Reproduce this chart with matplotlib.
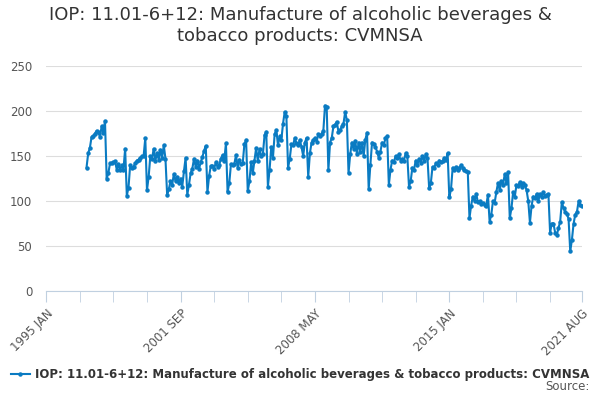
import numpy as np
import matplotlib.pyplot as plt

# monthly index values, Jan 1997 .. Aug 2021
years = list(range(1997, 2022))
values_by_year = {
    1997: [137, 153, 159, 171, 172, 175, 178, 177, 171, 183, 176, 189],
    1998: [125, 131, 142, 142, 143, 144, 135, 141, 134, 140, 135, 158],
    1999: [106, 115, 140, 137, 138, 142, 145, 146, 148, 150, 150, 170],
    2000: [112, 127, 150, 147, 158, 145, 153, 146, 157, 148, 162, 147],
    2001: [107, 113, 122, 118, 130, 122, 127, 120, 125, 116, 133, 148],
    2002: [107, 118, 131, 136, 147, 138, 145, 136, 143, 149, 156, 161],
    2003: [110, 128, 139, 139, 136, 143, 138, 140, 147, 151, 145, 164],
    2004: [110, 120, 141, 140, 141, 151, 137, 146, 141, 142, 163, 168],
    2005: [111, 122, 143, 131, 145, 159, 144, 158, 150, 152, 173, 177],
    2006: [116, 135, 160, 148, 174, 179, 162, 172, 168, 186, 199, 194],
    2007: [137, 147, 163, 162, 170, 164, 162, 168, 160, 150, 165, 170],
    2008: [127, 153, 165, 168, 170, 166, 174, 172, 175, 178, 206, 204],
    2009: [134, 165, 170, 183, 185, 188, 177, 179, 183, 186, 199, 190],
    2010: [131, 152, 165, 158, 167, 152, 165, 155, 165, 150, 168, 176],
    2011: [113, 140, 165, 163, 160, 155, 148, 155, 165, 162, 170, 172],
    2012: [118, 135, 145, 143, 150, 148, 152, 145, 147, 145, 153, 150],
    2013: [116, 122, 137, 135, 145, 140, 147, 142, 150, 145, 152, 148],
    2014: [114, 120, 138, 137, 142, 140, 145, 143, 144, 148, 146, 153],
    2015: [104, 113, 137, 135, 138, 134, 137, 140, 137, 135, 133, 132],
    2016: [81, 95, 105, 100, 108, 99, 100, 97, 98, 96, 95, 107],
    2017: [77, 85, 100, 98, 110, 120, 112, 122, 118, 130, 120, 132],
    2018: [81, 92, 110, 105, 118, 117, 121, 116, 120, 118, 112, 100],
    2019: [76, 95, 105, 103, 108, 100, 108, 104, 110, 106, 107, 108],
    2020: [65, 75, 75, 65, 62, 70, 77, 99, 92, 88, 86, 80],
    2021: [44, 57, 75, 85, 88, 100, 96, 95],
}
tick_labels = ["1995 JAN", "2001 SEP", "2008 MAY", "2015 JAN", "2021 AUG"]
tick_months = [0, 80, 160, 240, 319]  # months since 1995 JAN

values = [v for y in years for v in values_by_year[y]]
months = np.arange(24, 24 + len(values))

color = "#0a7bc2"
fig = plt.figure(figsize=(6, 4), dpi=100)
ax = fig.add_axes([0.077, 0.2725, 0.893, 0.5625])
line, = ax.plot(months, values, color=color, lw=1.5, marker="o", ms=2.2)

ax.set_xlim(0, 319)
ax.set_ylim(0, 250)
ax.set_yticks([0, 50, 100, 150, 200, 250])
ax.set_xticks(tick_months)
ax.set_xticklabels(tick_labels, rotation=45, ha="right", rotation_mode="anchor")
ax.set_xticks(np.arange(0, 320, 20), minor=True)
ax.tick_params(axis="x", which="both", length=8, color="#c0d0e0", labelsize=8.5, labelcolor="#555555")
ax.tick_params(axis="y", length=0, labelsize=8.5, labelcolor="#555555", pad=10)
ax.grid(axis="y", color="#dddddd", lw=0.8)
ax.set_axisbelow(True)
for s in ["top", "right", "left"]:
    ax.spines[s].set_visible(False)
ax.spines["bottom"].set_color("#c0d0e0")

fig.suptitle("IOP: 11.01-6+12: Manufacture of alcoholic beverages &\ntobacco products: CVMNSA",
             y=0.985, fontsize=13, color="#333333", linespacing=1.2)
fig.legend([line], ["IOP: 11.01-6+12: Manufacture of alcoholic beverages & tobacco products: CVMNSA"],
           loc="center", bbox_to_anchor=(0.5, 0.063), frameon=False,
           prop={"size": 8.5, "weight": "bold"}, labelcolor="#333333",
           handlelength=1.6, handletextpad=0.4)
fig.text(0.982, 0.025, "Source:", ha="right", fontsize=8.5, color="#555555")

fig.savefig("out.png")
